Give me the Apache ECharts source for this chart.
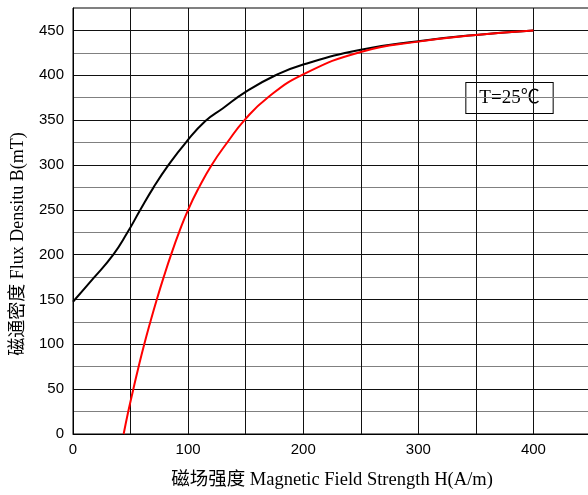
<!DOCTYPE html>
<html><head><meta charset="utf-8">
<script src="https://cdn.jsdelivr.net/npm/echarts@6/dist/echarts.min.js"></script>
<style>html,body{margin:0;padding:0;background:#fff}#c{width:588px;height:495px}</style>
</head><body><div id="c"></div>
<script>
// Magnetic field strength H (A/m) vs flux density B (mT)
const blackH = [0, 18, 35, 47, 58.5, 70, 83, 98, 115, 130, 150, 176, 200, 250, 300, 350, 400];
const blackB = [147.5, 174, 200, 224, 250, 275, 300, 325, 349, 363, 381.5, 400, 412, 428.5, 438, 445, 450];
const redH = [44, 48, 52.4, 57, 61.9, 67.2, 72.8, 78.8, 85.2, 92.2, 100, 109.5, 120.5, 134, 149, 169, 200, 250, 300, 350, 400];
const redB = [0, 25, 50, 75, 100, 125, 150, 175, 200, 225, 250, 275, 300, 325, 350, 375, 401, 426, 437.5, 445, 450];
const xTickLabels = ['0', '100', '200', '300', '400'];
const yTickLabels = ['0', '50', '100', '150', '200', '250', '300', '350', '400', '450'];
const xTitle = '磁场强度 Magnetic Field Strength H(A/m)';
const yTitle = '磁通密度 Flux Densitu B(mT)';
const noteText = 'T=25℃';

const chart = echarts.init(document.getElementById('c'), null, {renderer: 'canvas'});
const serif = '"Liberation Serif", "Noto Sans CJK SC", serif';
const sans = '"Liberation Sans", Arial, sans-serif';
chart.setOption({
  animation: false,
  grid: {left: 73, top: 8, width: 518, height: 426, outerBoundsMode: 'none', containLabel: false,
    show: true, borderColor: '#000', borderWidth: 1, backgroundColor: 'transparent'},
  xAxis: {
    type: 'value', min: 0, max: 450, interval: 50,
    axisLine: {show: true, lineStyle: {color: '#000', width: 1}},
    axisTick: {show: false},
    axisLabel: {color: '#000', fontFamily: sans, fontSize: 15, margin: 8,
      formatter: v => xTickLabels.includes(String(v)) ? String(v) : ''},
    splitLine: {show: true, lineStyle: {color: '#111', width: 1}},
    name: xTitle, nameLocation: 'middle', nameGap: 37,
    nameTextStyle: {color: '#000', fontFamily: serif, fontSize: 18.5}
  },
  yAxis: {
    type: 'value', min: 0, max: 475, interval: 25,
    axisLine: {show: true, lineStyle: {color: '#000', width: 1}},
    axisTick: {show: false},
    axisLabel: {color: '#000', fontFamily: sans, fontSize: 15, margin: 9,
      formatter: v => yTickLabels.includes(String(v)) ? String(v) : ''},
    splitLine: {show: true, lineStyle: {color: ['#111', '#808080'], width: 1}}
  },
  graphic: [
    {type: 'text', rotation: Math.PI / 2, x: 18, y: 244,
      style: {text: yTitle, fill: '#000', font: '18px ' + serif, textAlign: 'center', textVerticalAlign: 'middle'}},
    {type: 'text', x: 509.5, y: 98,
      style: {text: noteText, fill: '#000', font: '19px ' + serif, textAlign: 'center', textVerticalAlign: 'middle',
        backgroundColor: '#fff', borderColor: '#000', borderWidth: 1, padding: [6, 13, 5, 13]}}
  ],
  series: [
    {type: 'line', data: blackH.map((h, i) => [h, blackB[i]]), smooth: 0.5, showSymbol: false,
      lineStyle: {color: '#000', width: 2}, z: 3},
    {type: 'line', data: redH.map((h, i) => [h, redB[i]]), smooth: 0.5, showSymbol: false,
      lineStyle: {color: '#ff0000', width: 2}, z: 4}
  ]
});
</script></body></html>
